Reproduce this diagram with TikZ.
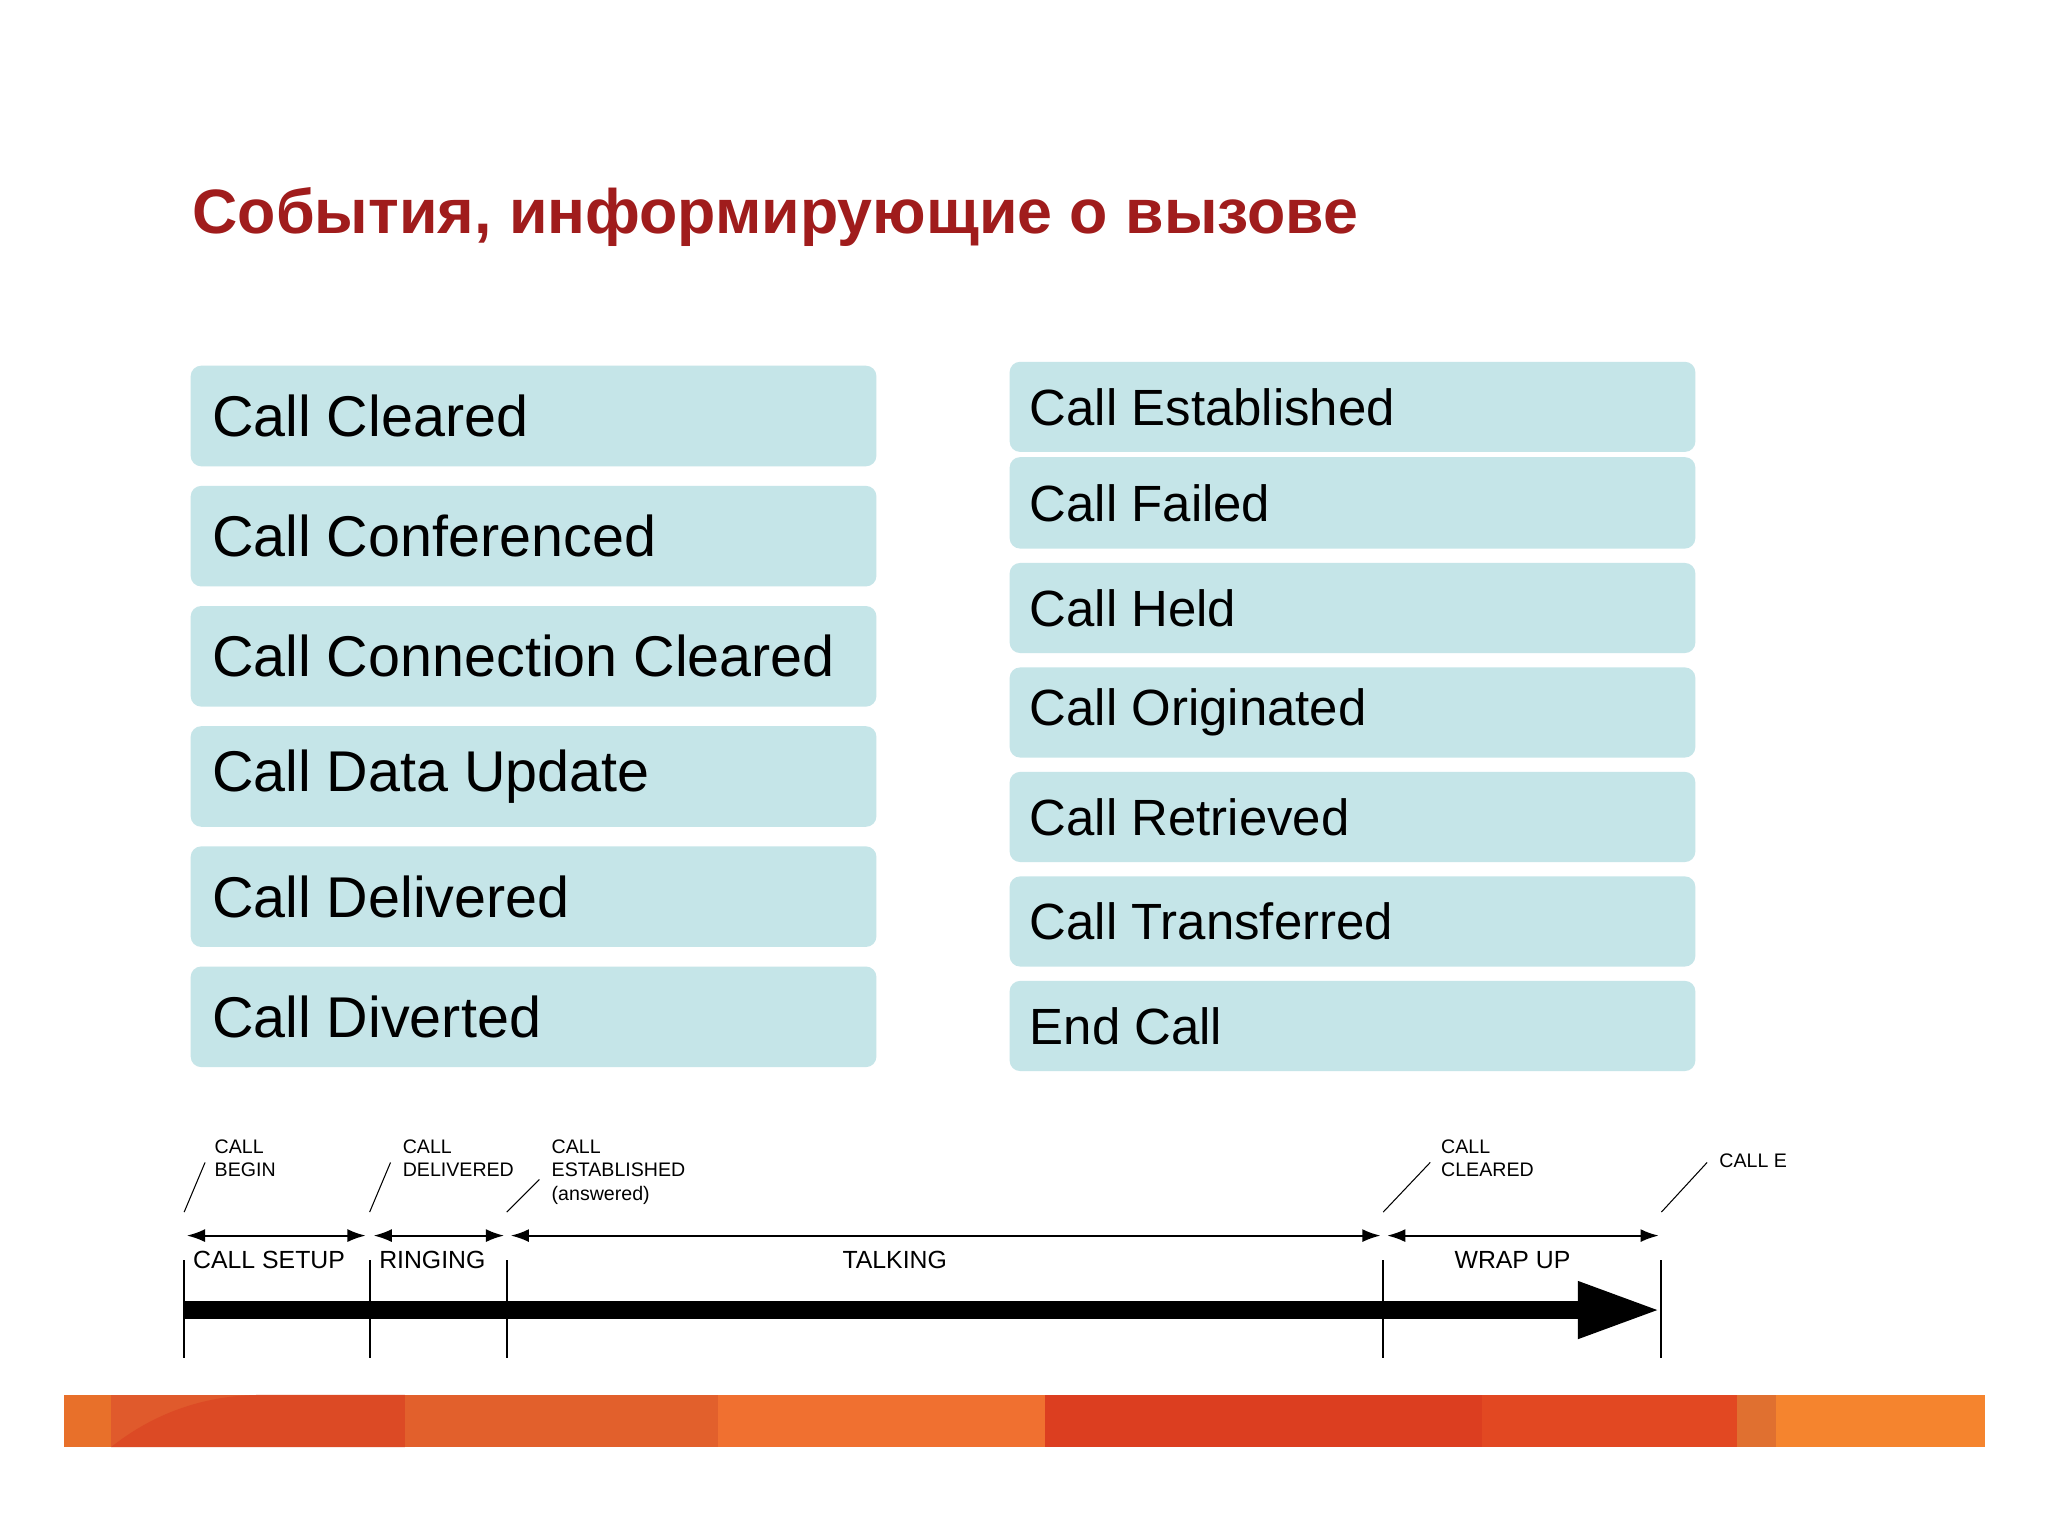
\documentclass[tikz,border=0pt]{standalone}
\usepackage{fontspec}
\setmainfont{Liberation Sans}
\usetikzlibrary{arrows.meta}
\definecolor{boxc}{HTML}{C5E5E8}
\definecolor{titc}{HTML}{A01C1C}
\definecolor{curvc}{HTML}{DC4A25}
\begin{document}
\begin{tikzpicture}[x=0.5pt,y=-0.5pt,
  evbox/.style={fill=boxc,rounded corners=4pt,draw=none},
  evtxt/.style={anchor=west,font=\fontsize{22}{24}\selectfont,inner sep=0},
  evtxtr/.style={anchor=west,font=\fontsize{19.5}{22}\selectfont,inner sep=0},
  small/.style={font=\fontsize{7.5}{9}\selectfont,align=left,anchor=north west,inner sep=0},
  phase/.style={font=\fontsize{9.5}{11}\selectfont,inner sep=0},
  dbl/.style={thick,{Latex[length=7pt,width=5pt]}-{Latex[length=7pt,width=5pt]}}]
\useasboundingbox (0,0) rectangle (1568,1176);
\fill[white] (0,0) rectangle (1568,1176);
\node[anchor=west,text=titc,font=\bfseries\fontsize{24}{28}\selectfont,inner sep=0] (title) at (147,166) {События, информирующие о вызове};
% left boxes
\foreach \n/\t/\a/\b in {l1/Call Cleared/280/357,l2/Call Conferenced/372/449,l3/Call Connection Cleared/464/541,l4/Call Data Update/556/633,l5/Call Delivered/648/725,l6/Call Diverted/740/817}{
  \fill[evbox] (146,\a) rectangle (671,\b);
  \node[evtxt] (\n) at (162,{(\a+\b)/2}) {\t};
}
\foreach \n/\t/\a/\b in {r1/Call Established/277/346,r2/Call Failed/350/420,r3/Call Held/431/500,r4/Call Originated/511/580,r5/Call Retrieved/591/660,r6/Call Transferred/671/740,r7/End Call/751/820}{
  \fill[evbox] (773,\a) rectangle (1298,\b);
  \node[evtxtr] (\n) at (788,{(\a+\b)/2}) {\t};
}
% timeline
\foreach \n/\x in {t1/141,t2/283,t3/388,t4/1059,t5/1272}{
  \coordinate (\n a) at (\x,965); \coordinate (\n b) at (\x,1040);
  \draw[thick] (\n a) -- (\n b);
}
\coordinate (bs) at (141,1003); \coordinate (be) at (1272,1003);
\draw[line width=7pt,-{Triangle[length=32pt,width=20pt]}] (bs) -- (be);
\coordinate (a1) at (143,946); \coordinate (a2) at (280,946);
\coordinate (a3) at (286,946); \coordinate (a4) at (386,946);
\coordinate (a5) at (391,946); \coordinate (a6) at (1057,946);
\coordinate (a7) at (1062,946); \coordinate (a8) at (1270,946);
\draw[dbl] (a1) -- (a2); \draw[dbl] (a3) -- (a4); \draw[dbl] (a5) -- (a6); \draw[dbl] (a7) -- (a8);
\node[phase] (p1) at (206,965) {CALL SETUP};
\node[phase] (p2) at (331,965) {RINGING};
\node[phase] (p3) at (685,965) {TALKING};
\node[phase] (p4) at (1158,965) {WRAP UP};
% slanted ticks
\draw (141,928) -- (157,890);
\draw (283,928) -- (299,890);
\draw (388,928) -- (413,903);
\draw (1059,928) -- (1095,890);
\draw (1272,928) -- (1307,890);
\node[small] (s1) at (164,872) {CALL\\BEGIN};
\node[small] (s2) at (308,872) {CALL\\DELIVERED};
\node[small] (s3) at (422,872) {CALL\\ESTABLISHED\\(answered)};
\node[small] (s4) at (1103,872) {CALL\\CLEARED};
\node[small] (s5) at (1316,883) {CALL E};
% orange bar
\foreach \a/\b/\c in {49/85/E8702A,85/310/E05A2C,310/550/E2602C,550/800/F07030,800/1135/DC3E20,1135/1330/E24822,1330/1360/E07030,1360/1520/F5842E}{
  \definecolor{tmpc}{HTML}{\c}
  \fill[tmpc] (\a,1068) rectangle (\b,1108);
}
\fill[curvc] (85,1108) .. controls (120,1080) and (160,1068) .. (200,1068) -- (310,1068) -- (310,1108) -- cycle;
\end{tikzpicture}
\end{document}
